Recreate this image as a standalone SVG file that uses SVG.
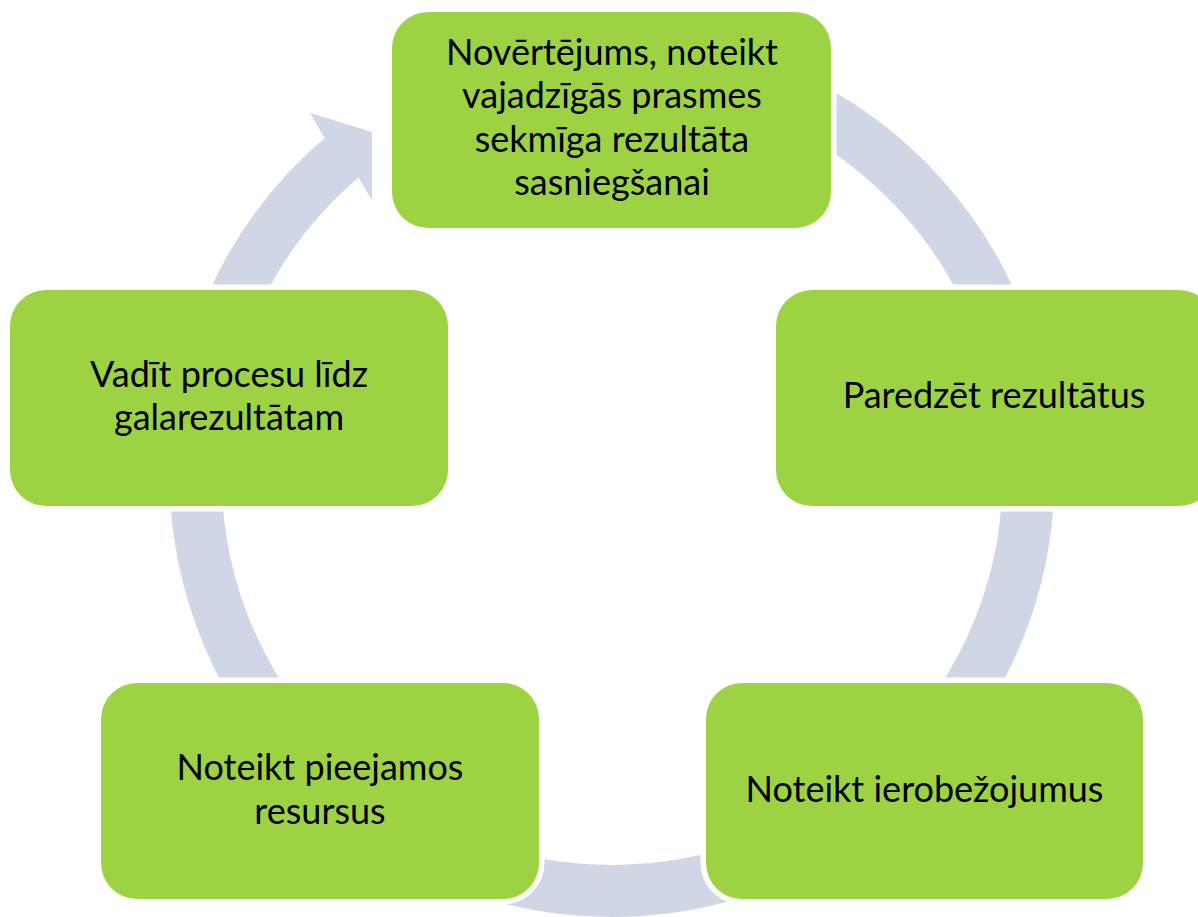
<svg xmlns="http://www.w3.org/2000/svg" width="1198" height="917" viewBox="0 0 1198 917">
  <style>
    .ring { fill: none; stroke: #CFD6E6; stroke-width: 52; }
    .head { fill: #CFD6E6; }
    .box { fill: #9DD343; stroke: #FFFFFF; stroke-width: 11; paint-order: stroke; }
    .lbl { font-family: Lato, "Liberation Sans", sans-serif; font-size: 36px; fill: #000000; text-anchor: middle; }
  </style>
  <rect x="0" y="0" width="1198" height="917" fill="#FFFFFF"/>
  <g id="connectors">
    <path class="ring" d="M 347.1 153.1 A 416.5 416.5 0 1 0 436 97"/>
    <path class="head" d="M 324.6 138 L 310 113 L 372 132 L 372 200 L 358.4 177.6 Z"/>
  </g>
  <g id="node-top">
    <rect class="box" x="392" y="12" width="439" height="216" rx="36" ry="36"/>
    <text class="lbl" x="612" y="65">Novērtējums, noteikt</text>
    <text class="lbl" x="612" y="108">vajadzīgās prasmes</text>
    <text class="lbl" x="612" y="151.5">sekmīga rezultāta</text>
    <text class="lbl" x="612" y="195">sasniegšanai</text>
  </g>
  <g id="node-right">
    <rect class="box" x="776" y="290" width="439" height="216" rx="36" ry="36"/>
    <text class="lbl" x="994" y="408">Paredzēt rezultātus</text>
  </g>
  <g id="node-bottom-right">
    <rect class="box" x="706" y="683" width="437" height="216" rx="36" ry="36"/>
    <text class="lbl" x="924.5" y="802">Noteikt ierobežojumus</text>
  </g>
  <g id="node-bottom-left">
    <rect class="box" x="101" y="683" width="438" height="216" rx="36" ry="36"/>
    <text class="lbl" x="320" y="780">Noteikt pieejamos</text>
    <text class="lbl" x="320" y="824">resursus</text>
  </g>
  <g id="node-left">
    <rect class="box" x="10" y="290" width="438" height="216" rx="36" ry="36"/>
    <text class="lbl" x="229" y="387">Vadīt procesu līdz</text>
    <text class="lbl" x="229" y="430">galarezultātam</text>
  </g>
</svg>
